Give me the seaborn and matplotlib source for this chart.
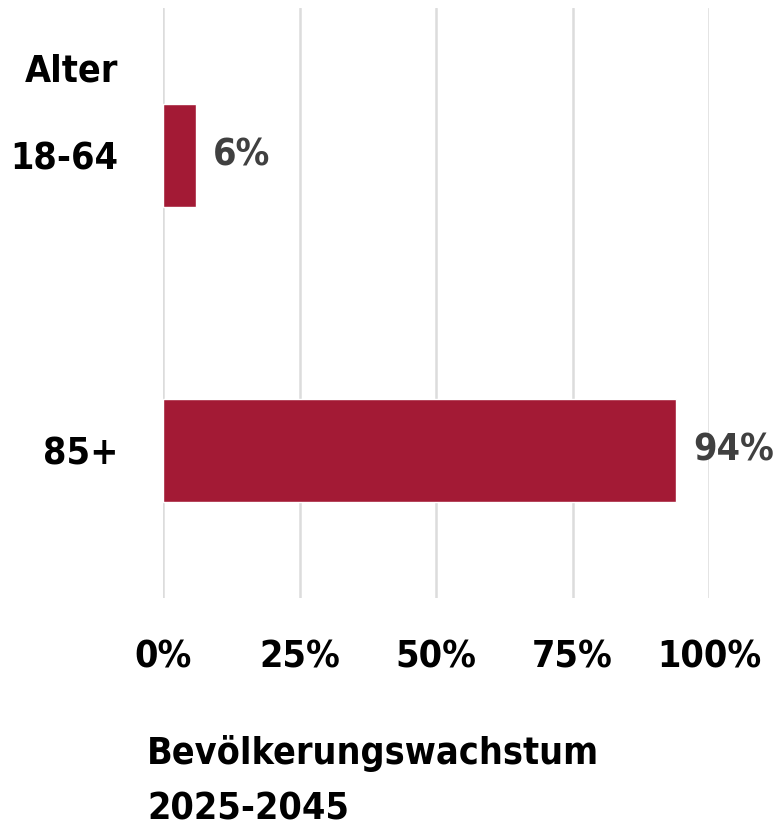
import pandas as pd
import matplotlib.pyplot as plt
import seaborn as sns

# Data
altersgruppen = ['18-64', '85+']
wachstum = [6, 94]
xticks = [0, 25, 50, 75, 100]
xtick_labels = ['0%', '25%', '50%', '75%', '100%']

df = pd.DataFrame({'Alter': altersgruppen, 'Wachstum': wachstum})

sns.set_style('white')
plt.rcParams['font.family'] = ['DejaVu Sans']
plt.rcParams['font.stretch'] = 'condensed'
plt.rcParams['font.weight'] = 'bold'
plt.rcParams['text.color'] = 'black'

fig = plt.figure(figsize=(7.78, 8.32), dpi=100)
ax = fig.add_axes([163 / 778, 1 - 598 / 832, (709 - 163) / 778, 590 / 832])

sns.barplot(data=df, x='Wachstum', y='Alter', color='#A31A35', width=0.35,
            saturation=1, ax=ax)

ax.set_xlim(0, 100)
ax.set_ylim(1.5, -0.5)
ax.set_xticks(xticks)
ax.set_xticklabels(xtick_labels)
ax.xaxis.grid(True, color='#dcdcdc', linewidth=1.8)
ax.set_axisbelow(True)
sns.despine(ax=ax, left=True, bottom=True)
ax.tick_params(axis='x', length=0, pad=30, labelsize=27, labelcolor='black')
ax.tick_params(axis='y', length=0, pad=32, labelsize=27, labelcolor='black')
ax.set_xlabel('')
ax.set_ylabel('')

# value labels
ax.bar_label(ax.containers[0], labels=[f'{v}%' for v in wachstum], padding=12,
             fontsize=27, color='#404040')

# "Alter" header above the category labels
fig.text(118 / 778, 1 - 72 / 832, 'Alter', ha='right', va='center', fontsize=27, color='black')

# axis title below
fig.text(147 / 778, 1 - 754 / 832, 'Bevölkerungswachstum', ha='left', va='center',
         fontsize=27, color='black')
fig.text(147 / 778, 1 - 810 / 832, '2025-2045', ha='left', va='center',
         fontsize=27, color='black')

plt.savefig('out.png', dpi=100)
